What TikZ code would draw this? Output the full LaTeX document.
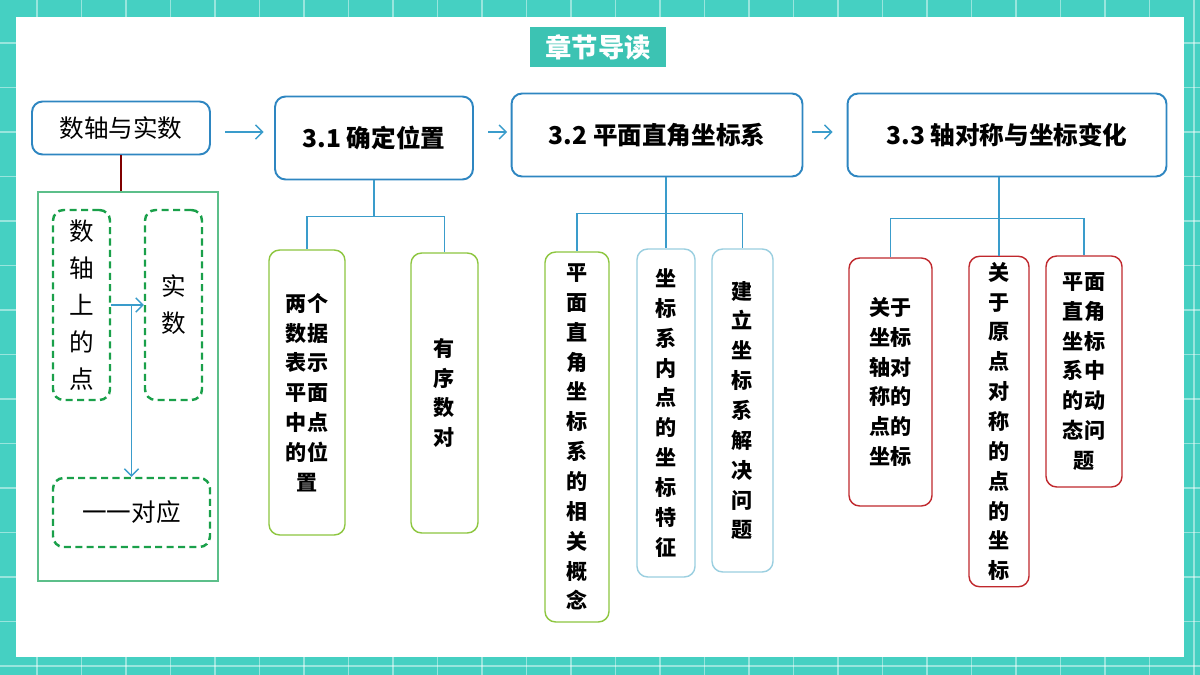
\documentclass[tikz,border=0pt]{standalone}
\usepackage{fontspec}
\setmainfont{Noto Sans CJK SC}
\usetikzlibrary{arrows.meta}
\definecolor{bgTeal}{HTML}{45D0C2}
\definecolor{titleTeal}{HTML}{3CC3B3}
\definecolor{mainBlue}{HTML}{2E86C1}
\definecolor{lineBlue}{HTML}{3A9CCB}
\definecolor{leafGreen}{HTML}{8DC63F}
\definecolor{leafBlue}{HTML}{9ACFE0}
\definecolor{leafRed}{HTML}{C0282D}
\definecolor{dashGreen}{HTML}{1AA04A}
\definecolor{frameGreen}{HTML}{5CBF8A}
\begin{document}
\begin{tikzpicture}[x=0.02cm, y=-0.02cm,
  mainStyle/.style={rectangle, rounded corners=6pt, draw=mainBlue, line width=1.1pt, fill=white, font=\fontsize{14pt}{16pt}\selectfont\bfseries},
  leafStyle/.style={rectangle, rounded corners=6pt, draw, line width=0.8pt, align=center, font=\fontsize{12pt}{17pt}\selectfont\bfseries},
  dashStyle/.style={rectangle, rounded corners=6pt, draw=dashGreen, dash pattern=on 4pt off 2.5pt, line width=1.4pt, align=center, font=\fontsize{14pt}{21pt}\selectfont},
  treeLine/.style={lineBlue, line width=0.8pt},
  flowArrow/.style={lineBlue, line width=0.8pt, -{Straight Barb[length=4pt,width=8pt]}}]
  % background
  \useasboundingbox (0,0) rectangle (1200,675);
  \fill[bgTeal] (0,0) rectangle (1200,675);
  \begin{scope}
    \clip (0,0) rectangle (1200,675);
    \foreach \k in {0,...,27} {
      \draw[white, opacity=0.45, line width=0.8pt] (-7.5+44.5*\k,0) -- (-7.5+44.5*\k,675);
    }
    \foreach \k in {0,...,15} {
      \draw[white, opacity=0.45, line width=0.8pt] (0,-1.5+44.5*\k) -- (1200,-1.5+44.5*\k);
    }
  \end{scope}
  \fill[white] (16,17) rectangle (1184,657);
  \node[fill=titleTeal, text=white, minimum width=2.74cm, minimum height=0.8cm, font=\fontsize{15pt}{17pt}\selectfont\bfseries] (title) at (598,47) {章节导读};

  % main row
  \node[mainStyle, font=\fontsize{14pt}{16pt}\selectfont, minimum width=3.56cm, minimum height=1.06cm] (numAxis) at (121,128) {数轴与实数};
  \node[mainStyle, minimum width=3.96cm, minimum height=1.66cm] (sec31) at (374,138) {3.1 确定位置};
  \node[mainStyle, minimum width=5.82cm, minimum height=1.66cm] (sec32) at (657,135) {3.2 平面直角坐标系};
  \node[mainStyle, minimum width=6.38cm, minimum height=1.66cm] (sec33) at (1007,135) {3.3 轴对称与坐标变化};
  \coordinate (flowY) at (0,132);
  \draw[flowArrow] ([xshift=8pt]numAxis.east |- flowY) -- ([xshift=-6pt]sec31.west |- flowY);
  \draw[flowArrow] ([xshift=8pt]sec31.east |- flowY) -- ([xshift=-2pt]sec32.west |- flowY);
  \draw[flowArrow] ([xshift=5pt]sec32.east |- flowY) -- ([xshift=-8pt]sec33.west |- flowY);

  % left group
  \node[draw=frameGreen, line width=0.8pt, minimum width=3.6cm, minimum height=7.78cm] (frame) at (128,386.5) {};
  \draw[red!50!black, line width=0.8pt] (numAxis.south) -- (frame.north -| numAxis.south);
  \node[dashStyle, minimum width=1.14cm, minimum height=3.8cm] (onAxis) at (81.5,305) {数\\轴\\上\\的\\点};
  \node[dashStyle, minimum width=1.14cm, minimum height=3.8cm] (realNum) at (173.5,305) {实\\数};
  \node[dashStyle, minimum width=3.14cm, minimum height=1.38cm] (oneOne) at (131.5,512.5) {一一对应};
  \draw[flowArrow] (onAxis.east) -- (realNum.west);
  \draw[flowArrow] (onAxis.east -| oneOne.north) -- (oneOne.north);

  % 3.1 leaves
  \node[leafStyle, draw=leafGreen, minimum width=1.52cm, minimum height=5.7cm] (twoData) at (307,392.5) {两个\\数据\\表示\\平面\\中点\\的位\\置};
  \node[leafStyle, draw=leafGreen, minimum width=1.34cm, minimum height=5.6cm] (ordPair) at (444.5,393) {有\\序\\数\\对};
  \draw[treeLine] (sec31.south) -- ++(0,36) -| (twoData.north);
  \draw[treeLine] (sec31.south) -- ++(0,36) -| (ordPair.north);

  % 3.2 leaves
  \node[leafStyle, draw=leafGreen, minimum width=1.28cm, minimum height=7.4cm] (concept) at (577,437) {平\\面\\直\\角\\坐\\标\\系\\的\\相\\关\\概\\念};
  \node[leafStyle, draw=leafBlue, minimum width=1.16cm, minimum height=6.56cm] (feature) at (666,413) {坐\\标\\系\\内\\点\\的\\坐\\标\\特\\征};
  \node[leafStyle, draw=leafBlue, minimum width=1.22cm, minimum height=6.46cm] (solve) at (742.5,410.5) {建\\立\\坐\\标\\系\\解\\决\\问\\题};
  \draw[treeLine] (feature.north |- sec32.south) -- ++(0,36) -| (concept.north);
  \draw[treeLine] (feature.north |- sec32.south) -- (feature.north);
  \draw[treeLine] (feature.north |- sec32.south) -- ++(0,36) -| (solve.north);

  % 3.3 leaves
  \node[leafStyle, draw=leafRed, minimum width=1.66cm, minimum height=4.96cm] (axisSym) at (890.5,382) {关于\\坐标\\轴对\\称的\\点的\\坐标};
  \node[leafStyle, draw=leafRed, minimum width=1.2cm, minimum height=6.54cm] (originSym) at (999,421.5) {关\\于\\原\\点\\对\\称\\的\\点\\的\\坐\\标};
  \node[leafStyle, draw=leafRed, minimum width=1.52cm, minimum height=4.62cm] (dynamic) at (1084,371.5) {平面\\直角\\坐标\\系中\\的动\\态问\\题};
  \draw[treeLine] (originSym.north |- sec33.south) -- ++(0,41) -| (axisSym.north);
  \draw[treeLine] (originSym.north |- sec33.south) -- (originSym.north);
  \draw[treeLine] (originSym.north |- sec33.south) -- ++(0,41) -| (dynamic.north);
\end{tikzpicture}
\end{document}
